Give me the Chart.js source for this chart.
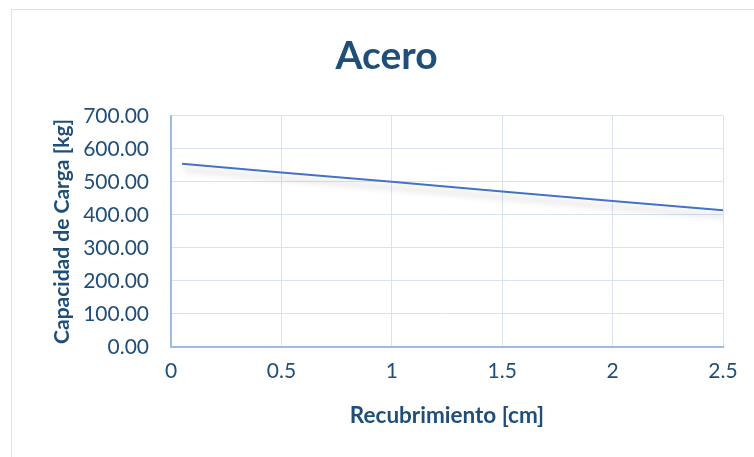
<!DOCTYPE html>
<html>
<head>
<meta charset="utf-8">
<script src="https://cdn.jsdelivr.net/npm/chart.js@4"></script>
<style>
  html, body { margin: 0; padding: 0; background: #fff; }
  #frame { position: absolute; left: 11px; top: 9px; width: 760px; height: 460px; border: 1px solid #d9e2f3; }
  #wrap { position: absolute; left: 0; top: 0; width: 754px; height: 457px; }
</style>
</head>
<body>
<div id="frame"></div>
<div id="wrap"><canvas id="chart"></canvas></div>
<script>
const recubrimiento = [0.05, 0.5, 1, 1.5, 2, 2.5];
const capacidad = [555, 528, 500, 471, 442, 414];
const yTicks = [0, 100, 200, 300, 400, 500, 600, 700];

const textColor = '#1f4e79';

// sombra bajo la línea
const shadowPlugin = {
    id: 'lineShadow',
    beforeDatasetDraw(chart) {
        const ctx = chart.ctx;
        ctx.save();
        ctx.shadowColor = 'rgba(0, 0, 0, 0.22)';
        ctx.shadowBlur = 6;
        ctx.shadowOffsetX = 2;
        ctx.shadowOffsetY = 6;
    },
    afterDatasetDraw(chart) {
        chart.ctx.restore();
    }
};

const ctx = document.getElementById('chart').getContext('2d');
new Chart(ctx, {
    type: 'line',
    data: {
        datasets: [{
            data: recubrimiento.map((x, i) => ({ x, y: capacidad[i] })),
            borderColor: '#4472c4',
            borderWidth: 2,
            pointRadius: 0,
            tension: 0,
            fill: false
        }]
    },
    options: {
        responsive: true,
        maintainAspectRatio: false,
        animation: false,
        layout: { padding: { left: 50, right: 31, top: 0, bottom: 28 } },
        plugins: {
            legend: { display: false },
            tooltip: { enabled: false },
            title: {
                display: true,
                text: 'Acero',
                color: textColor,
                font: { family: 'Lato', size: 39, weight: 'bold' },
                padding: { top: 33, bottom: 36 }
            }
        },
        scales: {
            x: {
                type: 'linear',
                min: 0,
                max: 2.5,
                ticks: {
                    stepSize: 0.5,
                    color: textColor,
                    font: { family: 'Lato', size: 21 },
                    padding: 12,
                    maxRotation: 0,
                    callback: v => String(Number(v))
                },
                grid: { color: '#d9e2f3', drawTicks: false },
                border: { color: '#9dbbe3', width: 2 },
                title: {
                    display: true,
                    text: 'Recubrimiento [cm]',
                    color: textColor,
                    font: { family: 'Lato', size: 22.5, weight: 'bold' },
                    padding: { top: 10, bottom: 0 }
                },
                afterFit(scale) { scale.height = 82; }
            },
            y: {
                min: 0,
                max: 700,
                afterBuildTicks(scale) { scale.ticks = yTicks.map(v => ({ value: v })); },
                ticks: {
                    color: textColor,
                    font: { family: 'Lato', size: 21 },
                    padding: 22,
                    callback: v => v.toFixed(2)
                },
                grid: { color: '#d9e2f3', drawTicks: false },
                border: { color: '#9dbbe3', width: 2 },
                title: {
                    display: true,
                    text: 'Capacidad de Carga [kg]',
                    color: textColor,
                    font: { family: 'Lato', size: 21, weight: 'bold' },
                    padding: 0
                },
                afterFit(scale) { scale.width = 121; }
            }
        }
    },
    plugins: [shadowPlugin]
});
</script>
</body>
</html>
